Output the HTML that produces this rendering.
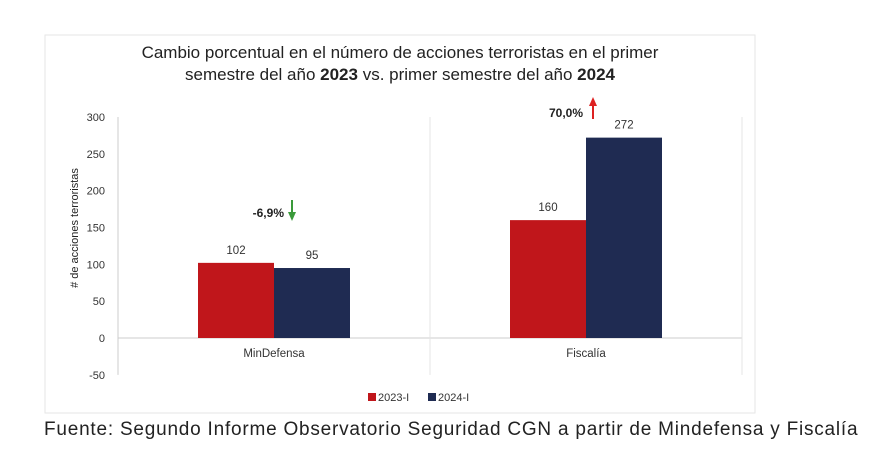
<!DOCTYPE html>
<html><head><meta charset="utf-8">
<style>
body{margin:0;width:878px;height:447px;background:#fff;overflow:hidden;font-family:"Liberation Sans",sans-serif}
</style></head>
<body>
<svg width="878" height="447">
<rect x="45" y="35" width="710" height="378" fill="#fff" stroke="#e6e6e6"/>
<text x="400" y="58" text-anchor="middle" font-size="17" fill="#222">Cambio porcentual en el número de acciones terroristas en el primer</text>
<text x="400" y="80" text-anchor="middle" font-size="17" fill="#222">semestre del año <tspan font-weight="bold">2023</tspan> vs. primer semestre del año <tspan font-weight="bold">2024</tspan></text>
<text transform="translate(78,228) rotate(-90)" text-anchor="middle" font-size="11" fill="#222"># de acciones terroristas</text>
<g id="ticks"></g>
<g id="bars"></g>
<text x="284" y="217" font-size="12" font-weight="bold" text-anchor="end" fill="#222">-6,9%</text>
<path d="M292 200 V213" stroke="#3a9a3a" stroke-width="2" fill="none"/>
<path d="M288 212 L296 212 L292 221 Z" fill="#3a9a3a"/>
<text x="583" y="117" font-size="12" font-weight="bold" text-anchor="end" fill="#222">70,0%</text>
<path d="M593 119 V105" stroke="#d22" stroke-width="2" fill="none"/>
<path d="M589 106 L597 106 L593 97 Z" fill="#d22"/>
<rect x="368" y="393" width="8" height="8" fill="#c0161b"/>
<text x="378" y="401" font-size="11" fill="#333">2023-I</text>
<rect x="428" y="393" width="8" height="8" fill="#1f2b52"/>
<text x="438" y="401" font-size="11" fill="#333">2024-I</text>
</svg>
<div style="position:absolute;left:44px;top:419px;font-size:19px;letter-spacing:0.78px;color:#222;white-space:nowrap">Fuente: Segundo Informe Observatorio Seguridad CGN a partir de Mindefensa y Fiscalía</div>
<script>
const categories=["MinDefensa","Fiscalía"];
const series2023=[102,160];
const series2024=[95,272];
const tickValues=[300,250,200,150,100,50,0,-50];
const NS="http://www.w3.org/2000/svg";
function y(v){return 338-v*(221/300);}
const catW=312,plotX=118;
function cx(i){return plotX+catW*i+catW/2;}
function mk(t,a,p){const e=document.createElementNS(NS,t);for(const k in a)e.setAttribute(k,a[k]);p.appendChild(e);return e;}
const tg=document.getElementById('ticks'),bg=document.getElementById('bars');
tickValues.forEach(v=>{const t=mk('text',{x:105,y:y(v)+4,'text-anchor':'end','font-size':11,fill:'#333'},tg);t.textContent=v;

});
let ax=mk('line',{x1:plotX,x2:plotX,y1:y(300),y2:y(-50),stroke:'#ccc'},tg);


let zl=mk('line',{x1:plotX,x2:plotX+catW*2,y1:y(0),y2:y(0),stroke:'#ccc'},tg);


for(let i=1;i<=categories.length;i++){let d=mk('line',{x1:plotX+catW*i,x2:plotX+catW*i,y1:y(300),y2:y(-50),stroke:'#e4e4e4'},tg);

}
categories.forEach((c,i)=>{
 const l=mk('text',{x:cx(i),y:357,'text-anchor':'middle','font-size':11.5,fill:'#333'},tg);l.textContent=c;
 
 
 [[series2023,'#c0161b',-76],[series2024,'#1f2b52',0]].forEach(([s,col,off],k)=>{
  const v=s[i];const r=mk('rect',{x:cx(i)+off,y:y(v),width:76,height:y(0)-y(v),fill:col},bg);
  
  
  const t=mk('text',{x:cx(i)+off+38,y:y(v)-9,'text-anchor':'middle','font-size':11.5,fill:'#333'},bg);t.textContent=v;
  
  
 });
});
</script>
</body></html>
